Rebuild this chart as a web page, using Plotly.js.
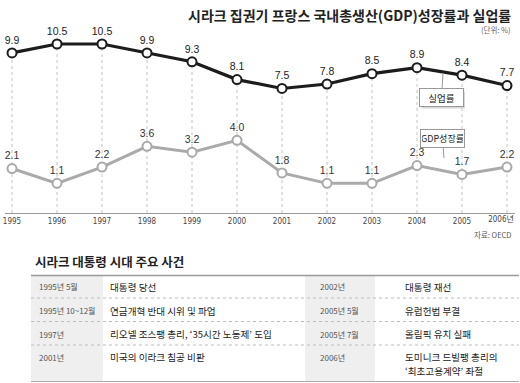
<!DOCTYPE html>
<html>
<head>
<meta charset="utf-8">
<script src="https://cdn.plot.ly/plotly-3.0.1.min.js"></script>
<style>html,body{margin:0;padding:0;background:#fff;}#chart{width:520px;height:383px;}</style>
</head>
<body>
<div id="chart"></div>
<script>
// ---- data ----
const years = [1995, 1996, 1997, 1998, 1999, 2000, 2001, 2002, 2003, 2004, 2005, 2006];
const tickLabels = ['1995', '1996', '1997', '1998', '1999', '2000', '2001', '2002', '2003', '2004', '2005', '2006년'];
const unemployment = [9.9, 10.5, 10.5, 9.9, 9.3, 8.1, 7.5, 7.8, 8.5, 8.9, 8.4, 7.7];
const gdpGrowth = [2.1, 1.1, 2.2, 3.6, 3.2, 4.0, 1.8, 1.1, 1.1, 2.3, 1.7, 2.2];

const leftDates = ['1995년 5월', '1995년 10~12월', '1997년', '2001년'];
const leftEvents = ['대통령 당선', '연금개혁 반대 시위 및 파업', '리오넬 조스팽 총리, ‘35시간 노동제’ 도입', '미국의 이라크 침공 비판'];
const rightDates = ['2002년', '2005년 5월', '2005년 7월', '2006년'];
const rightEvents = ['대통령 재선', '유럽헌법 부결', '올림픽 유치 실패', '도미니크 드빌팽 총리의\n‘최초고용계약’ 좌절'];

// ---- helpers (figure pixel -> paper) ----
const W = 520, H = 383;
const px = x => x / W;
const py = y => 1 - y / H;
const KR = '"Noto Sans CJK KR", "Noto Sans", sans-serif';
const NUM = '"Liberation Sans", Arial, sans-serif';
const TICKFONT = '"DejaVu Sans Condensed", "Liberation Sans Narrow", "Noto Sans CJK KR", sans-serif';
const YMIN = -0.9, YMAX = 12.12;
const XRANGE = [1994.844, 2006.178];
const lastIdx = years.length - 1;

const traces = [
  {
    x: years, y: unemployment, type: 'scatter', mode: 'lines+markers+text',
    text: unemployment.map(v => v.toFixed(1)), textposition: 'top center',
    textfont: {family: NUM, size: 10.5, color: '#222'},
    line: {color: '#1c1c1c', width: 3.2},
    marker: {size: 9, color: '#fff', line: {color: '#1c1c1c', width: 2}},
    cliponaxis: false, hoverinfo: 'skip'
  },
  {
    x: years, y: gdpGrowth, type: 'scatter', mode: 'lines+markers+text',
    text: gdpGrowth.map(v => v.toFixed(1)), textposition: 'top center',
    textfont: {family: NUM, size: 10.5, color: '#333'},
    line: {color: '#aaaaaa', width: 3},
    marker: {size: 9, color: '#fff', line: {color: '#aaaaaa', width: 2}},
    cliponaxis: false, hoverinfo: 'skip'
  },
  // invisible carrier so the secondary x axis (last tick label) is drawn
  {
    x: [years[lastIdx]], y: [unemployment[lastIdx]], xaxis: 'x2', yaxis: 'y', type: 'scatter', mode: 'markers',
    marker: {size: 1, opacity: 0}, hoverinfo: 'skip', showlegend: false
  }
];

const shapes = [];
// dotted guide lines from the unemployment marker down to the axis
years.forEach((yr, i) => {
  shapes.push({type: 'line', xref: 'x', yref: 'y', x0: yr, x1: yr, y0: YMIN, y1: unemployment[i],
    line: {color: '#c4c4c4', width: 1, dash: 'dot'}, layer: 'below'});
});
// callout shadows
shapes.push({type: 'rect', xref: 'paper', yref: 'paper', x0: px(421.5), x1: px(465), y0: py(108.5), y1: py(91.5), fillcolor: '#d6d6d6', line: {width: 0}});
shapes.push({type: 'rect', xref: 'paper', yref: 'paper', x0: px(421.5), x1: px(465), y0: py(147.5), y1: py(130.5), fillcolor: '#d6d6d6', line: {width: 0}});

// table
const tL = 31, tR = 519, tTop = 275.5, tBot = 381.5;
shapes.push({type: 'rect', xref: 'paper', yref: 'paper', x0: px(tL), x1: px(103), y0: py(tBot), y1: py(tTop), fillcolor: '#efefef', line: {width: 0}, layer: 'below'});
shapes.push({type: 'rect', xref: 'paper', yref: 'paper', x0: px(305), x1: px(375), y0: py(tBot), y1: py(tTop), fillcolor: '#efefef', line: {width: 0}, layer: 'below'});
[298, 321.5, 345].forEach(y => {
  shapes.push({type: 'line', xref: 'paper', yref: 'paper', x0: px(tL), x1: px(tR), y0: py(y), y1: py(y),
    line: {color: '#bdbdbd', width: 1, dash: 'dot'}});
});
shapes.push({type: 'line', xref: 'paper', yref: 'paper', x0: px(tL), x1: px(tR), y0: py(tTop), y1: py(tTop), line: {color: '#9a9a9a', width: 1.5}});
shapes.push({type: 'line', xref: 'paper', yref: 'paper', x0: px(tL), x1: px(tR), y0: py(tBot), y1: py(tBot), line: {color: '#aaaaaa', width: 1.2}});

const annotations = [
  {text: '<b>시라크 집권기 프랑스 국내총생산(GDP)성장률과 실업률</b>', xref: 'paper', yref: 'paper', x: px(513), y: py(15),
   xanchor: 'right', yanchor: 'middle', showarrow: false, font: {family: KR, size: 14, color: '#222'}},
  {text: '(단위: %)', xref: 'paper', yref: 'paper', x: px(513), y: py(29.5), xanchor: 'right', yanchor: 'middle',
   showarrow: false, font: {family: KR, size: 7.5, color: '#666'}},
  {text: '자료: OECD', xref: 'paper', yref: 'paper', x: px(514), y: py(234), xanchor: 'right', yanchor: 'middle',
   showarrow: false, font: {family: KR, size: 7.5, color: '#555'}},
  {text: '실업률', xref: 'paper', yref: 'paper', x: px(443), y: py(73), ax: -1.5, ay: 25,
   showarrow: true, arrowhead: 0, arrowwidth: 1, arrowcolor: '#999',
   bgcolor: '#fff', bordercolor: '#999', borderwidth: 1, borderpad: 1, width: 41, height: 15,
   font: {family: KR, size: 9.5, color: '#222'}},
  {text: 'GDP성장률', xref: 'paper', yref: 'paper', x: px(444), y: py(158), ax: -1.5, ay: -20,
   showarrow: true, arrowhead: 0, arrowwidth: 1, arrowcolor: '#999',
   bgcolor: '#fff', bordercolor: '#999', borderwidth: 1, borderpad: 1, width: 41, height: 15,
   font: {family: KR, size: 9, color: '#222'}},
  {text: '<b>시라크 대통령 시대 주요 사건</b>', xref: 'paper', yref: 'paper', x: px(33), y: py(261),
   xanchor: 'left', yanchor: 'middle', showarrow: false, font: {family: KR, size: 12.5, color: '#222'}}
];

const rowY = [286.7, 310.7, 334, 357.3];
const lineGap = 13.5;
function addRow(dates, events, dateX, eventX) {
  dates.forEach((d, i) => {
    annotations.push({text: d, xref: 'paper', yref: 'paper', x: px(dateX), y: py(rowY[i]), xanchor: 'left', yanchor: 'middle',
      showarrow: false, font: {family: KR, size: 8, color: '#555'}});
    events[i].split('\n').forEach((ln, k) => {
      annotations.push({text: ln, xref: 'paper', yref: 'paper', x: px(eventX), y: py(rowY[i] + k * lineGap),
        xanchor: 'left', yanchor: 'middle', showarrow: false, font: {family: KR, size: 9.6, color: '#222'}});
    });
  });
}
addRow(leftDates, leftEvents, 37, 108);
addRow(rightDates, rightEvents, 318, 403);

const layout = {
  width: W, height: H,
  margin: {l: 0, r: 0, t: 0, b: 0, pad: 0},
  paper_bgcolor: '#fff', plot_bgcolor: 'rgba(0,0,0,0)',
  showlegend: false,
  xaxis: {
    domain: [px(5), px(515)], range: XRANGE,
    tickvals: years.slice(0, lastIdx), ticktext: tickLabels.slice(0, lastIdx),
    showgrid: false, zeroline: false, showline: true, linecolor: '#999', linewidth: 1, ticks: '',
    tickfont: {family: TICKFONT, size: 8, color: '#444'},
    automargin: false, fixedrange: true
  },
  // the last label ("2006년") is set flush to the right edge in the original
  xaxis2: {
    overlaying: 'x', anchor: 'y', side: 'bottom', range: XRANGE,
    tickvals: [years[lastIdx]], ticktext: [tickLabels[lastIdx]], ticklabelshift: -6, ticklabeloverflow: 'allow',
    showgrid: false, zeroline: false, showline: false, ticks: '',
    tickfont: {family: TICKFONT, size: 8, color: '#444'},
    automargin: false, fixedrange: true
  },
  yaxis: {
    domain: [py(213), py(20)], range: [YMIN, YMAX], visible: false, automargin: false, fixedrange: true
  },
  shapes: shapes,
  annotations: annotations
};

Plotly.newPlot('chart', traces, layout, {displayModeBar: false, staticPlot: true});
</script>
</body>
</html>
